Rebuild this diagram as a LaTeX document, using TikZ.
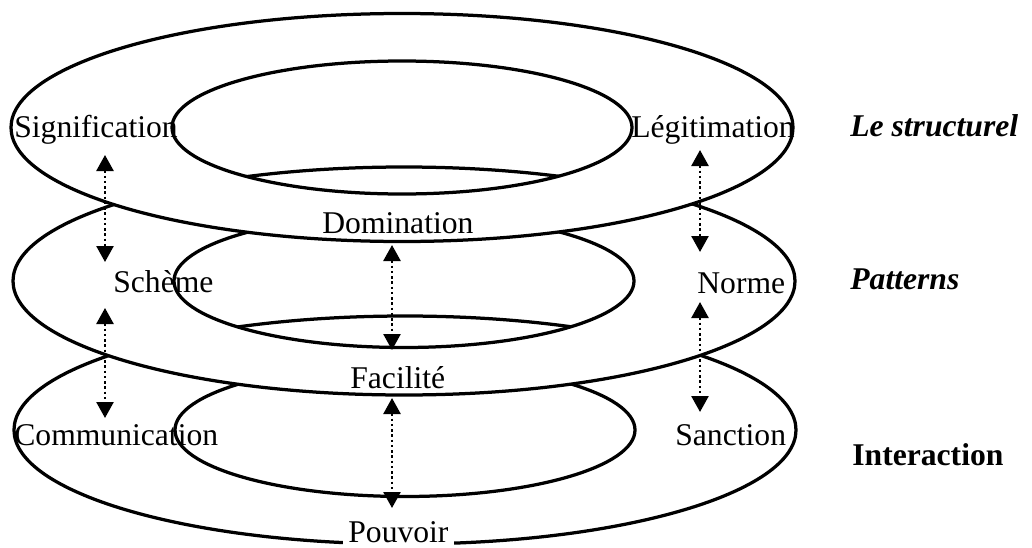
\documentclass[tikz,border=0pt]{standalone}
\usepackage{fontspec}
\setmainfont{Liberation Serif}
\usepackage{tikz}
\usetikzlibrary{arrows.meta, positioning, calc}

\begin{document}
\begin{tikzpicture}[
    ring/.style={draw, fill=white, even odd rule, line width=0.065cm},
    lbl/.style={anchor=base west, inner sep=0pt, font=\fontsize{18}{21}\selectfont},
    side/.style={lbl, font=\fontsize{18}{21}\selectfont\bfseries\itshape},
    arr/.style={{Triangle[length=0.32cm,width=0.34cm]}-{Triangle[length=0.32cm,width=0.34cm]}, line width=0.05cm, dash pattern=on 0.05cm off 0.055cm},
]
\useasboundingbox (0,0) rectangle (20.64,-10.94);

% ring centres
\coordinate (cbot) at (8.10,-8.60);
\coordinate (cmid) at (8.08,-5.62);
\coordinate (ctop) at (8.04,-2.55);

% Rings, from the bottom one up
\path[ring] (cbot) ellipse (7.82 and 2.28) (cbot) ellipse (4.60 and 1.33);
\path[ring] (cmid) ellipse (7.82 and 2.28) (cmid) ellipse (4.60 and 1.33);
\path[ring] (ctop) ellipse (7.82 and 2.28) (ctop) ellipse (4.60 and 1.33);

% Le structurel
\node[lbl] (sig) at (0.28, -2.74) {Signification};
\node[lbl] (dom) at (6.44, -4.66) {Domination};
\node[lbl] (leg) at (12.62, -2.74) {Légitimation};

% Patterns
\node[lbl] (sch) at (2.26, -5.84) {Schème};
\node[lbl] (fac) at (7.00, -7.76) {Facilité};
\node[lbl] (nor) at (13.94, -5.86) {Norme};

% Interaction
\node[lbl] (com) at (0.28, -8.90) {Communication};
\node[lbl, fill=white, inner xsep=0.1cm, inner ysep=0.16cm] (pou) at (6.86, -10.84) {Pouvoir\hspace{0.25cm}};
\node[lbl] (san) at (13.50, -8.90) {Sanction};

% Side titles
\node[side] (t1) at (17.00, -2.72) {Le structurel};
\node[side] (t2) at (17.00, -5.78) {Patterns};
\node[lbl, font=\fontsize{18}{21}\selectfont\bfseries] (t3) at (17.04, -9.30) {Interaction};

% arrow ends
\coordinate (a1) at (2.10, -3.10);
\coordinate (b1) at (2.10, -5.24);
\coordinate (a2) at (14.00, -3.00);
\coordinate (b2) at (14.00, -5.04);
\coordinate (a3) at (7.84, -4.90);
\coordinate (b3) at (7.84, -7.00);
\coordinate (a4) at (2.10, -6.16);
\coordinate (b4) at (2.10, -8.36);
\coordinate (a5) at (14.00, -6.04);
\coordinate (b5) at (14.00, -8.24);
\coordinate (a6) at (7.84, -7.96);
\coordinate (b6) at (7.84, -10.16);

\draw[arr] (a1) -- (b1);
\draw[arr] (a2) -- (b2);
\draw[arr] (a3) -- (b3);
\draw[arr] (a4) -- (b4);
\draw[arr] (a5) -- (b5);
\draw[arr] (a6) -- (b6);
\end{tikzpicture}
\end{document}
